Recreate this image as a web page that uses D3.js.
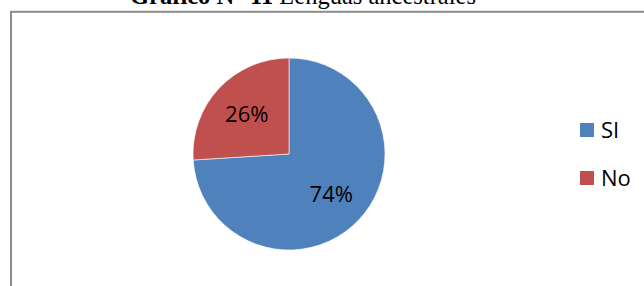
<!DOCTYPE html>
<html>
<head>
<meta charset="utf-8">
<script src="https://cdn.jsdelivr.net/npm/d3@7"></script>
<style>
  html, body { margin: 0; padding: 0; background: #fff; }
  svg { display: block; }
</style>
</head>
<body>
<svg></svg>
<script>
const categorias = ["SI", "No"]
const valores = [74, 26]
const kleuren = ["#4F81BD", "#C0504D"]

const width = 644
const height = 286
const svg = d3.select('svg')
    .attr("width", width)
    .attr("height", height)

// kader
svg.append('rect')
    .attr("x", 11)
    .attr("y", 11.8)
    .attr("width", width + 20)
    .attr("height", height + 20)
    .attr("fill", "none")
    .attr("stroke", "#8c8c8c")
    .attr("stroke-width", 2)

// titel (bovenkant valt buiten beeld, net als in het origineel)
const titel = svg.append('text')
    .attr("x", 303)
    .attr("y", 3.5)
    .attr("text-anchor", "middle")
    .style("font-family", "'Liberation Serif', 'Times New Roman', serif")
    .style("font-size", "24.5px")
titel.append('tspan').attr("font-weight", "bold").text("Gráfico N° 11")
titel.append('tspan').text(" Lenguas ancestrales")

const data = categorias.map((c, i) => ({ key: c, amount: valores[i] }))
const kleur = d3.scaleOrdinal().domain(categorias).range(kleuren)

const pie = d3.pie().sort(null).value(d => d.amount)
const radius = 96
const arc = d3.arc().innerRadius(0).outerRadius(radius)
const labelArc = d3.arc().innerRadius(58).outerRadius(58)

const g = svg.append('g').attr("transform", "translate(289,154)")

g.selectAll('path')
    .data(pie(data))
    .enter().append('path')
        .attr("d", arc)
        .attr("fill", d => kleur(d.data.key))
        .attr("stroke", "#fff")
        .attr("stroke-width", 0.6)

g.selectAll('text')
    .data(pie(data))
    .enter().append('text')
        .attr("transform", d => `translate(${labelArc.centroid(d)})`)
        .attr("text-anchor", "middle")
        .attr("dy", "0.36em")
        .style("font-family", "'Open Sans', sans-serif")
        .style("font-size", "22px")
        .attr("fill", "#000")
        .text(d => d.data.amount + "%")

// legenda
const legY = d3.scalePoint().domain(categorias).range([130, 178])
const leg = svg.selectAll('.leg')
    .data(data)
    .enter().append('g')
        .attr("class", "leg")
        .attr("transform", d => `translate(580,${legY(d.key)})`)
leg.append('rect')
    .attr("x", 0)
    .attr("y", -7)
    .attr("width", 14)
    .attr("height", 14)
    .attr("fill", d => kleur(d.key))
leg.append('text')
    .attr("x", 21)
    .attr("y", 0)
    .attr("dy", "0.36em")
    .style("font-family", "'Open Sans', sans-serif")
    .style("font-size", "22px")
    .text(d => d.key)
</script>
</body>
</html>
